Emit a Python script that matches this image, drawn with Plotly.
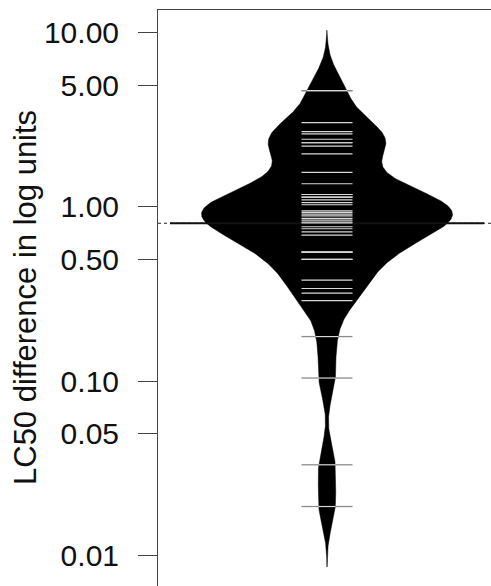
import numpy as np
import plotly.graph_objects as go

# LC50 differences (one entry per compound), read on a log scale
lc50_diff = [4.66, 4.66,
             3.05, 2.71, 2.63, 2.45, 2.34, 2.34, 2.24, 2.02,
             1.58, 1.36,
             1.18, 1.18, 1.14, 1.14, 1.10, 1.06, 1.03,
             0.95, 0.93, 0.91, 0.89, 0.86, 0.84,
             0.82, 0.81, 0.77, 0.75, 0.72, 0.69,
             0.55, 0.55, 0.55, 0.50, 0.50,
             0.38, 0.34, 0.32, 0.29,
             0.18, 0.104, 0.033, 0.019]

tick_vals = [10, 5, 1, 0.5, 0.1, 0.05, 0.01]
tick_text = ["10.00", "5.00", "1.00", "0.50", "0.10", "0.05", "0.01"]

# bean geometry (x in plot units, bean centred on 0)
X_RANGE = [-169, 164]
BEAN_HALF = 125.5      # half width of the widest part of the bean
LINE_HALF = 25.5       # half length of each bean line
AVG_HALF = 157         # half length of the bean average line
BW = 0.116             # kernel bandwidth in log10 units
CUT = 3                # bean extends CUT bandwidths beyond the data

t = np.log10(np.array(lc50_diff))
grid = np.linspace(t.min() - CUT * BW, t.max() + CUT * BW, 600)
dens = np.exp(-0.5 * ((grid[:, None] - t[None, :]) / BW) ** 2).sum(axis=1)
half = dens / dens.max() * BEAN_HALF

fig = go.Figure()

# overall average (dotted, across the whole plot)
avg = 10 ** t.mean()
fig.add_trace(go.Scatter(x=X_RANGE, y=[avg, avg], mode="lines",
                         line=dict(color="#222222", width=1, dash="dot"),
                         hoverinfo="skip"))

# the bean: mirrored density polygon
fig.add_trace(go.Scatter(
    x=np.concatenate([half, -half[::-1]]),
    y=10 ** np.concatenate([grid, grid[::-1]]),
    mode="lines", fill="toself", fillcolor="black",
    line=dict(color="black", width=0.5), hoverinfo="skip"))

# bean average line
fig.add_trace(go.Scatter(x=[-AVG_HALF, AVG_HALF], y=[avg, avg], mode="lines",
                         line=dict(color="#111111", width=2), hoverinfo="skip"))

# bean lines: light inside the bean, grey where they stick out
in_x, in_y, out_x, out_y = [], [], [], []
for v, tv in zip(lc50_diff, t):
    w = float(np.interp(tv, grid, half))
    inner = min(w, LINE_HALF)
    in_x += [-inner, inner, None]
    in_y += [v, v, None]
    if w < LINE_HALF:
        out_x += [-LINE_HALF, -w, None, w, LINE_HALF, None]
        out_y += [v, v, None, v, v, None]

fig.add_trace(go.Scatter(x=out_x, y=out_y, mode="lines",
                         line=dict(color="#8c8c8c", width=1.3), hoverinfo="skip"))
fig.add_trace(go.Scatter(x=in_x, y=in_y, mode="lines",
                         line=dict(color="#d8d8d8", width=1.2), hoverinfo="skip"))

font = "Liberation Sans, Arial, sans-serif"
fig.update_layout(
    width=491, height=586,
    margin=dict(l=158, r=0, t=10, b=0),
    paper_bgcolor="white", plot_bgcolor="white",
    showlegend=False,
    font=dict(family=font, color="#111111"),
    xaxis=dict(range=X_RANGE, side="top", showline=True, linecolor="#444444",
               linewidth=1, showgrid=False, zeroline=False, showticklabels=False,
               ticks=""),
    yaxis=dict(type="log", range=[-2.178, 1.132], showline=True,
               linecolor="#444444", linewidth=1, showgrid=False, zeroline=False,
               tickvals=tick_vals, ticktext=tick_text, ticks="outside",
               ticklen=19, tickcolor="#444444", tickwidth=1,
               tickfont=dict(size=30, family=font, color="#111111"),
               ticklabelstandoff=13),
    annotations=[dict(text="LC50 difference in log units", xref="paper",
                      yref="paper", x=0, y=0.5, xanchor="center",
                      yanchor="middle", xshift=-133, textangle=-90,
                      showarrow=False,
                      font=dict(size=31, family=font, color="#111111"))],
)

fig.write_html("out.html")
